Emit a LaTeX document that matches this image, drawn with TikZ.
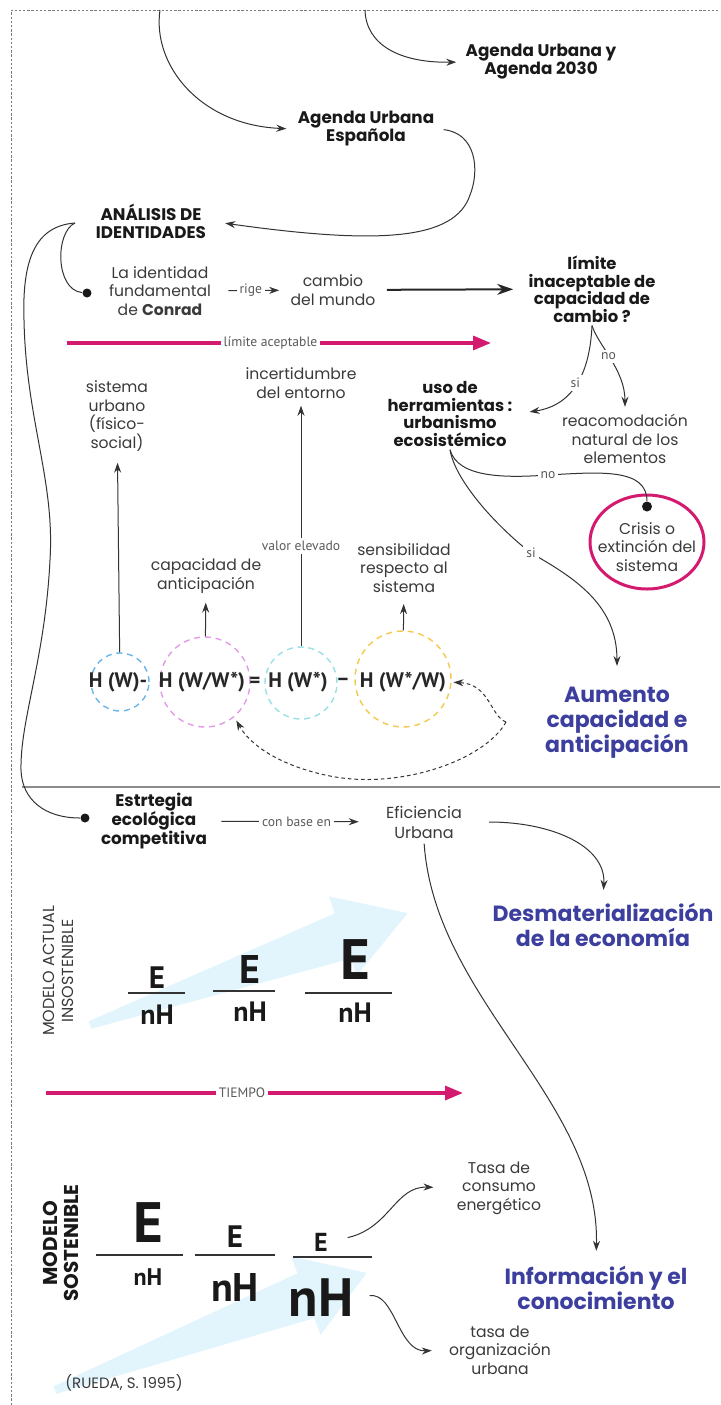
\documentclass[tikz,border=0pt]{standalone}
\usepackage{fontspec}
\setmainfont{Poppins}
\newfontfamily\narrowfont{PT Sans}
\usetikzlibrary{arrows.meta,shapes.geometric}

\definecolor{textgray}{HTML}{3A3A3A}
\definecolor{labelgray}{HTML}{5A5A5A}
\definecolor{goalblue}{HTML}{3D3F9E}
\definecolor{limitpink}{HTML}{D31A6E}
\definecolor{skyfill}{HTML}{E2F5FC}
\definecolor{ringblue}{HTML}{6AB4E8}
\definecolor{ringpink}{HTML}{E49BE6}
\definecolor{ringcyan}{HTML}{98E0E3}
\definecolor{ringyellow}{HTML}{F3C94E}
\definecolor{framegray}{HTML}{7A7A7A}

\begin{document}
\begin{tikzpicture}[x=0.5pt,y=-0.5pt,
    txt/.style={font=\fontsize{7.8}{9.3}\selectfont, text=textgray, align=center, inner sep=1.5pt},
    hdr/.style={font=\fontsize{8.4}{9}\selectfont\bfseries, text=black!90, align=center, inner sep=1.5pt},
    goal/.style={font=\fontsize{11}{12.5}\selectfont\bfseries, text=goalblue, align=center, inner sep=1.5pt},
    lbl/.style={font=\narrowfont\fontsize{6.8}{8}\selectfont, text=labelgray, fill=white, inner sep=1.5pt},
    conn/.style={line width=0.5pt, draw=black!80, -{Stealth[length=5pt,width=3.5pt]}},
    dashconn/.style={conn, dash pattern=on 1.8pt off 1.5pt},
    limitline/.style={line width=1.6pt, draw=limitpink, -{Triangle[length=9pt,width=7pt]}},
    bigarrow/.style={line width=1pt, draw=black!85, -{Stealth[length=8pt,width=5.5pt]}},
    bullet/.style={circle, fill=black!90, inner sep=0pt, minimum size=4.5pt},
    ring/.style={circle, dash pattern=on 3pt off 2.4pt, line width=0.7pt, inner sep=0pt},
    term/.style={font=\narrowfont\fontsize{10.5}{12}\selectfont\bfseries, text=black!85, inner sep=0.5pt},
    frac/.style={font=\narrowfont\bfseries\fontsize{#1}{#1}\selectfont, text=black!90, inner sep=0pt},
    fracbar/.style={line width=0.8pt, draw=black!80}
]
\useasboundingbox (0,0) rectangle (720,1405);

% frame
\draw [framegray, line width=0.5pt, dash pattern=on 1.2pt off 0.9pt]
    (11,1405) -- (11,10) -- (720,10);

% light arrows behind the ratios
\fill [skyfill, shift={(90,1025)}, rotate=19.4]
    (0,-4) -- (268,-24) -- (268,-42) -- (337,0) -- (268,42) -- (268,24) -- (0,4) -- cycle;
\fill [skyfill, shift={(55,1390)}, rotate=20.6]
    (0,-4) -- (268,-24) -- (268,-42) -- (333,0) -- (268,42) -- (268,24) -- (0,4) -- cycle;

% agendas
\coordinate (topA) at (160,10);
\coordinate (topB) at (365,10);
\node [hdr] (aue) at (366,129) {Agenda Urbana\\Española};
\node [hdr] (au30) at (541,62) {Agenda Urbana y\\Agenda 2030};
\node [hdr] (anid) at (151,221) {ANÁLISIS DE\\IDENTIDADES};
\draw [conn, shorten >=4pt] (topA) .. controls (152,65) and (200,125) .. (aue.west);
\draw [conn, shorten >=3pt] (topB) .. controls (366,45) and (400,63) .. (au30.west);
\draw [conn, shorten <=3pt, shorten >=8pt] (aue.east)
    .. controls (476,133) and (480,170) .. (470,195)
    .. controls (455,240) and (380,245) .. (anid.east);

% identity and change
\coordinate (anfork) at (75,223);
\node [bullet] (cdot) at (87,293) {};
\node [txt] (conrad) at (160,291) {La identidad\\fundamental\\de \textbf{Conrad}};
\node [txt] (cambio) at (333,290) {cambio\\del mundo};
\node [hdr, font=\fontsize{8.2}{8.75}\selectfont\bfseries] (limite) at (592,289)
    {límite\\inaceptable de\\capacidad de\\cambio ?};
\draw [line width=0.5pt, black!80] (anfork) .. controls (55,232) and (55,290) .. (cdot);
\draw [conn, shorten <=7pt, shorten >=4pt] (conrad) -- node [lbl] {rige} (cambio);
\draw [bigarrow, shorten <=4pt, shorten >=6pt] (cambio) -- (limite);

\coordinate (acc0) at (67,343);
\coordinate (acc1) at (491,343);
\draw [limitline] (acc0) -- node [lbl, pos=0.48] {límite aceptable} (acc1);

% decision
\node [hdr, font=\fontsize{8.2}{8.75}\selectfont\bfseries] (herr) at (450,414)
    {uso de\\herramientas :\\urbanismo\\ecosistémico};
\node [txt] (reac) at (625,439) {reacomodación\\natural de los\\elementos};
\node [ellipse, draw=limitpink, line width=1.5pt, minimum width=57pt, minimum height=47pt,
    inner sep=0pt] (crisis) at (647,542) {};
\node [txt] (crisistxt) at (647,547) {Crisis o\\extinción del\\sistema};
\node [bullet, minimum size=5pt] (crdot) at ([yshift=-6.5pt]crisis.north) {};
\node [goal] (aum) at (617,723) {Aumento\\capacidad e\\anticipación};

\draw [conn, shorten >=7pt] (limite.south) .. controls (590,370) and (575,405)
    .. node [lbl] {si} (herr.east);
\draw [conn, shorten >=2pt] (limite.south) .. controls (598,345) and (625,370)
    .. node [lbl, pos=0.45] {no} (reac.north);
\draw [line width=0.5pt, black!80] (herr.south)
    .. controls (458,478) and (505,478) .. (548,475) node [lbl] {no}
    .. controls (600,472) and (647,468) .. (crdot);
\draw [conn, shorten >=9pt] (herr.south)
    .. controls (455,480) and (495,525) .. (531,553) node [lbl] {si}
    .. controls (575,578) and (617,605) .. (aum.north);

% entropy relation
\node [ring, draw=ringblue, minimum size=29pt] (cw) at (120,682) {};
\node [ring, draw=ringpink, minimum size=45pt] (cww) at (205,682) {};
\node [ring, draw=ringcyan, minimum size=36pt] (cws) at (301,683) {};
\node [ring, draw=ringyellow, minimum size=48pt] (cwsw) at (403,679) {};
\node [term] (hw) at (118,682) {H (W)-};
\node [term] (hww) at (202,682) {H (W/W*)};
\node [term] (heq) at (255,682) {=};
\node [term] (hws) at (298,682) {H (W*)};
\node [term] (hmin) at (343,682) {–};
\node [term] (hwsw) at (403,682) {H (W*/W)};

\node [txt] (sist) at (117,416) {sistema\\urbano\\(físico-\\social)};
\node [txt] (antic) at (206,576) {capacidad de\\anticipación};
\node [txt] (incert) at (301,383) {incertidumbre\\del entorno};
\node [txt] (sensib) at (404,568) {sensibilidad\\respecto al\\sistema};
\draw [conn, shorten >=4pt] (cw) -- (sist);
\draw [conn, shorten >=3pt] (cww) -- (antic);
\draw [conn, shorten >=2pt] (cws) -- node [lbl, pos=0.41] {valor elevado} (incert);
\draw [conn, shorten >=4pt] (cwsw) -- (sensib);

\coordinate (dfork) at (506,722);
\draw [dashconn, shorten >=3pt] (dfork) .. controls (490,716) and (490,684) .. (hwsw.east);
\draw [dashconn, shorten >=2pt] (dfork)
    .. controls (485,760) and (400,790) .. (330,776)
    .. controls (280,766) and (250,745) .. (cww.-50);

% separator
\draw [black!45, line width=0.6pt] (22,787) -- (720,787);

% strategy
\node [bullet] (edot) at (85,818) {};
\draw [line width=0.5pt, black!80] (anfork)
    .. controls (35,226) and (22,260) .. (24,320)
    .. controls (26,420) and (55,480) .. (50,560)
    .. controls (45,660) and (20,720) .. (21,770)
    .. controls (22,800) and (45,818) .. (edot);
\node [hdr, font=\fontsize{8.4}{9.5}\selectfont\bfseries] (estr) at (154,821)
    {Estrtegia\\ecológica\\competitiva};
\node [txt, font=\fontsize{8}{10}\selectfont] (efic) at (424,822) {Eficiencia\\Urbana};
\node [goal] (desm) at (603,925) {Desmaterialización\\de la economía};
\node [goal] (info) at (596,1288) {Información y el\\conocimiento};
\draw [conn, shorten <=5.5pt, shorten >=12pt] (estr) -- node [lbl] {con base en} (efic);
\draw [conn, shorten <=12pt, shorten >=5pt] (efic.east) .. controls (550,822) and (606,845) .. (desm.north);
\draw [conn, shorten <=1pt, shorten >=6pt] (efic.south) .. controls (435,1000) and (600,1100) .. (info.north);

% unsustainable model
\node [txt, rotate=90, font=\fontsize{8}{9.5}\selectfont] (modact) at (58,971)
    {MODELO ACTUAL\\INSOSTENIBLE};
\foreach \i/\x/\es/\ey/\ny/\bl/\br/\by in {
    1/157/15.5/978/1015/128/185/993,
    2/250/20/969/1012/213/275/991,
    3/355/28.5/960/1013/305/392/993} {
  \node [frac=\es] (topE\i) at (\x,\ey) {E};
  \node [frac=14] (topN\i) at (\x,\ny) {nH};
  \draw [fracbar] (\bl,\by) -- (\br,\by);
}

\coordinate (time0) at (46,1093);
\coordinate (time1) at (463,1093);
\draw [limitline] (time0) -- node [lbl, pos=0.47] {TIEMPO} (time1);

% sustainable model
\node [hdr, rotate=90, font=\fontsize{10}{10.5}\selectfont\bfseries] (modsos) at (61,1243)
    {MODELO\\SOSTENIBLE};
\foreach \i/\x/\es/\ey/\ns/\ny/\bl/\br/\by in {
    1/148/28.5/1223/12/1277/96/183/1255,
    2/235/15.5/1237/20/1287/195/275/1255,
    3/321/13/1242/27/1298/293/372/1257} {
  \node [frac=\es] (botE\i) at (\x,\ey) {E};
  \node [frac=\ns] (botN\i) at (\x,\ny) {nH};
  \draw [fracbar] (\bl,\by) -- (\br,\by);
}

\node [txt] (tcons) at (499,1188) {Tasa de\\consumo\\energético};
\node [txt] (torg) at (500,1350) {tasa de\\organización\\urbana};
\draw [conn, shorten <=10pt, shorten >=10pt] (botE3.east) .. controls (390,1228) and (395,1186) .. (tcons.west);
\draw [conn, shorten <=8pt, shorten >=7pt] (botN3.east) .. controls (395,1292) and (398,1352) .. (torg.west);

\node [txt, font=\fontsize{7.5}{9}\selectfont] (rueda) at (124,1383) {(RUEDA, S. 1995)};

\end{tikzpicture}
\end{document}
